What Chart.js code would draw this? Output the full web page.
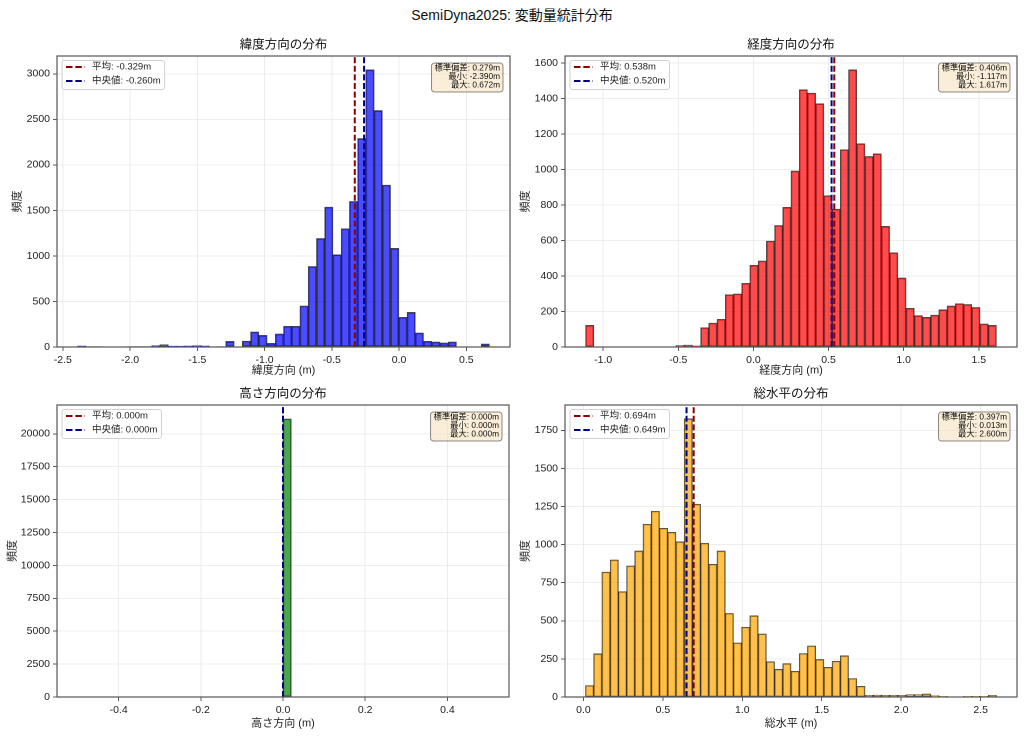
<!DOCTYPE html>
<html lang="ja">
<head>
    <meta charset="UTF-8">
    <title>SemiDyna2025: 変動量統計分布</title>
    <script src="https://cdn.jsdelivr.net/npm/chart.js"></script>
    <style>
        body {
            margin: 0;
            background: #fff;
            width: 1024px;
            height: 737px;
            overflow: hidden;
            position: relative;
            font-family: "Liberation Sans", "Noto Sans CJK JP", sans-serif;
        }

        .suptitle {
            position: absolute;
            top: 4px;
            left: 0;
            width: 1024px;
            text-align: center;
            font-size: 14px;
            color: #111;
        }

        canvas {
            position: absolute;
        }
    </style>
</head>
<body>

    <div class="suptitle">SemiDyna2025: 変動量統計分布</div>

    <canvas id="latChart" width="520" height="385" style="left:0;top:0"></canvas>
    <canvas id="lonChart" width="514" height="385" style="left:510px;top:0"></canvas>
    <canvas id="hgtChart" width="520" height="352" style="left:0;top:385px"></canvas>
    <canvas id="horChart" width="514" height="352" style="left:510px;top:385px"></canvas>

    <script>
        // Histogram counts per bin (50 bins)
        const latCounts = [12, 3, 3, 0, 0, 0, 2, 2, 5, 15, 25, 10, 10, 12, 15, 12, 0, 5, 62, 0,
            65, 165, 128, 40, 143, 227, 227, 450, 885, 1192, 1536, 1013, 1298, 1598, 2290, 3043, 2597, 1778, 1083, 326,
            380, 154, 62, 55, 44, 55, 0, 0, 0, 33];
        const lonCounts = [122, 0, 0, 0, 0, 0, 0, 0, 0, 0, 0, 9, 11, 6, 109, 135, 156, 295, 299, 359,
            460, 485, 597, 685, 787, 992, 1450, 1431, 1371, 853, 777, 1112, 1562, 1146, 1074, 1089, 680, 531, 389, 218,
            177, 167, 180, 210, 231, 244, 240, 223, 130, 122];
        const hgtCounts = [0, 0, 0, 0, 0, 0, 0, 0, 0, 0, 0, 0, 0, 0, 0, 0, 0, 0, 0, 0,
            0, 0, 0, 0, 0, 21130, 0, 0, 0, 0, 0, 0, 0, 0, 0, 0, 0, 0, 0, 0,
            0, 0, 0, 0, 0, 0, 0, 0, 0, 0];
        const horCounts = [75, 283, 820, 899, 691, 860, 958, 1134, 1219, 1107, 1081, 1018, 1825, 1265, 1009, 871, 958, 548, 355, 458,
            533, 414, 232, 182, 219, 169, 285, 335, 246, 195, 235, 270, 121, 70, 11, 13, 11, 11, 11, 15,
            15, 20, 9, 4, 0, 0, 4, 4, 4, 11];

        // Histogram ranges [min, max]
        const latRange = [-2.390, 0.672];
        const lonRange = [-1.117, 1.617];
        const hgtRange = [-0.5, 0.5];
        const horRange = [0.013, 2.600];

        // Statistics: mean, median, std, min, max
        const latStats = [-0.329, -0.260, 0.279, -2.390, 0.672];
        const lonStats = [0.538, 0.520, 0.406, -1.117, 1.617];
        const hgtStats = [0.000, 0.000, 0.000, 0.000, 0.000];
        const horStats = [0.694, 0.649, 0.397, 0.013, 2.600];

        // Tick values
        const latXTicks = [-2.5, -2.0, -1.5, -1.0, -0.5, 0.0, 0.5];
        const lonXTicks = [-1.0, -0.5, 0.0, 0.5, 1.0, 1.5];
        const hgtXTicks = [-0.4, -0.2, 0.0, 0.2, 0.4];
        const horXTicks = [0.0, 0.5, 1.0, 1.5, 2.0, 2.5];
        const latYTicks = [0, 500, 1000, 1500, 2000, 2500, 3000];
        const lonYTicks = [0, 200, 400, 600, 800, 1000, 1200, 1400, 1600];
        const hgtYTicks = [0, 2500, 5000, 7500, 10000, 12500, 15000, 17500, 20000];
        const horYTicks = [0, 250, 500, 750, 1000, 1250, 1500, 1750];

        const FONT = '"Liberation Sans", "Noto Sans CJK JP", sans-serif';
        Chart.defaults.font.family = FONT;
        Chart.defaults.color = '#222';

        function binCenters(range, n) {
            const w = (range[1] - range[0]) / n;
            const out = [];
            for (let i = 0; i < n; i++) out.push(range[0] + (i + 0.5) * w);
            return out;
        }

        // Draws spines, panel title, inner legend and stats box
        const decor = {
            id: 'decor',
            afterDatasetsDraw(chart, args, opts) {
                const a = chart.chartArea;
                const ctx = chart.ctx;
                ctx.save();
                ctx.strokeStyle = '#555';
                ctx.lineWidth = 1.2;
                ctx.strokeRect(a.left, a.top, a.right - a.left, a.bottom - a.top);
                ctx.restore();
            },
            afterDraw(chart, args, opts) {
                const a = chart.chartArea;
                const ctx = chart.ctx;
                ctx.save();

                // panel title
                ctx.fillStyle = '#111';
                ctx.font = '12.5px ' + FONT;
                ctx.textAlign = 'center';
                ctx.textBaseline = 'middle';
                ctx.fillText(opts.title, (a.left + a.right) / 2, a.top - 11);

                // legend (upper left)
                const lines = chart.data.datasets.filter(d => d.type === 'line');
                ctx.font = '9.5px ' + FONT;
                const tw = Math.max(...lines.map(d => ctx.measureText(d.label).width));
                const lx = a.left + 5, ly = a.top + 4.5;
                const lw = tw + 34, lh = 29;
                roundRect(ctx, lx, ly, lw, lh, 2.5);
                ctx.fillStyle = 'rgba(255,255,255,0.8)';
                ctx.fill();
                ctx.strokeStyle = 'rgba(204,204,204,0.9)';
                ctx.lineWidth = 1;
                ctx.stroke();
                lines.forEach((d, i) => {
                    const y = ly + 6.5 + i * 14;
                    ctx.beginPath();
                    ctx.setLineDash([6.5, 2.8]);
                    ctx.strokeStyle = d.borderColor;
                    ctx.lineWidth = 2;
                    ctx.moveTo(lx + 4, y);
                    ctx.lineTo(lx + 23, y);
                    ctx.stroke();
                    ctx.setLineDash([]);
                    ctx.fillStyle = '#222';
                    ctx.textAlign = 'left';
                    ctx.fillText(d.label, lx + 30, y);
                });

                // stats box (upper right)
                ctx.font = '8.3px ' + FONT;
                const sw = Math.max(...opts.stats.map(s => ctx.measureText(s).width));
                const bw = sw + 6, bh = 29;
                const bx = a.right - 7 - bw, by = a.top + 7;
                roundRect(ctx, bx, by, bw, bh, 3);
                ctx.fillStyle = 'rgba(245,222,179,0.5)';
                ctx.fill();
                ctx.strokeStyle = 'rgba(0,0,0,0.45)';
                ctx.lineWidth = 1;
                ctx.stroke();
                ctx.fillStyle = '#111';
                ctx.textAlign = 'right';
                opts.stats.forEach((s, i) => {
                    ctx.fillText(s, bx + bw - 3, by + 5 + i * 8.7);
                });
                ctx.restore();
            }
        };

        function roundRect(ctx, x, y, w, h, r) {
            ctx.beginPath();
            ctx.moveTo(x + r, y);
            ctx.lineTo(x + w - r, y);
            ctx.arcTo(x + w, y, x + w, y + r, r);
            ctx.lineTo(x + w, y + h - r);
            ctx.arcTo(x + w, y + h, x + w - r, y + h, r);
            ctx.lineTo(x + r, y + h);
            ctx.arcTo(x, y + h, x, y + h - r, r);
            ctx.lineTo(x, y + r);
            ctx.arcTo(x, y, x + r, y, r);
            ctx.closePath();
        }

        function makeHist(id, cfg) {
            const centers = binCenters(cfg.range, cfg.counts.length);
            const yMax = cfg.yMax;
            const mean = cfg.stats[0], median = cfg.stats[1];
            const fmt = v => v.toFixed(3) + 'm';
            return new Chart(document.getElementById(id), {
                type: 'bar',
                data: {
                    datasets: [
                        {
                            type: 'line',
                            label: '平均: ' + fmt(mean),
                            data: [{ x: mean, y: 0 }, { x: mean, y: yMax }],
                            borderColor: '#8b0000',
                            borderWidth: 2,
                            borderDash: [6, 2.6],
                            pointRadius: 0,
                            order: 1
                        },
                        {
                            type: 'line',
                            label: '中央値: ' + fmt(median),
                            data: [{ x: median, y: 0 }, { x: median, y: yMax }],
                            borderColor: '#00008b',
                            borderWidth: 2,
                            borderDash: [6, 2.6],
                            pointRadius: 0,
                            order: 0
                        },
                        {
                            type: 'bar',
                            label: 'count',
                            data: centers.map((c, i) => ({ x: c, y: cfg.counts[i] })),
                            backgroundColor: cfg.color,
                            borderColor: 'rgba(0,0,0,0.7)',
                            borderWidth: 0.9,
                            borderSkipped: false,
                            barPercentage: 1,
                            categoryPercentage: 1,
                            order: 2
                        }
                    ]
                },
                options: {
                    responsive: false,
                    animation: false,
                    devicePixelRatio: 2,
                    layout: { padding: { top: cfg.padTop, right: cfg.padRight, left: 0, bottom: 0 } },
                    plugins: {
                        legend: { display: false },
                        tooltip: { enabled: false },
                        title: { display: false },
                        decor: {
                            title: cfg.title,
                            stats: [
                                '標準偏差: ' + fmt(cfg.stats[2]),
                                '最小: ' + fmt(cfg.stats[3]),
                                '最大: ' + fmt(cfg.stats[4])
                            ]
                        }
                    },
                    scales: {
                        x: {
                            type: 'linear',
                            min: cfg.xMin,
                            max: cfg.xMax,
                            offset: false,
                            afterFit: axis => { axis.height = cfg.xH; },
                            afterBuildTicks: axis => { axis.ticks = cfg.xTicks.map(v => ({ value: v })); },
                            ticks: {
                                autoSkip: false,
                                maxRotation: 0,
                                padding: 3,
                                font: { size: 10.5 },
                                callback: v => v.toFixed(1)
                            },
                            grid: { color: '#e8e8e8', lineWidth: 0.8, offset: false, tickLength: 4, tickColor: '#333' },
                            border: { display: false },
                            title: { display: true, text: cfg.xLabel, font: { size: 11 }, padding: { top: 0, bottom: cfg.xTitlePad } }
                        },
                        y: {
                            min: 0,
                            max: yMax,
                            afterFit: axis => { axis.width = cfg.yW; },
                            afterBuildTicks: axis => { axis.ticks = cfg.yTicks.map(v => ({ value: v })); },
                            ticks: { autoSkip: false, padding: 3, font: { size: 10.5 }, callback: v => String(v) },
                            grid: { color: '#e8e8e8', lineWidth: 0.8, tickLength: 4, tickColor: '#333' },
                            border: { display: false },
                            title: { display: true, text: '頻度', font: { size: 11 }, padding: { top: cfg.yTitlePad, bottom: 0 } }
                        }
                    }
                },
                plugins: [decor]
            });
        }

        makeHist('latChart', {
            title: '緯度方向の分布', xLabel: '緯度方向 (m)',
            counts: latCounts, range: latRange, stats: latStats,
            color: 'rgba(0,0,255,0.7)',
            xMin: -2.543, xMax: 0.825, yMax: 3195,
            xTicks: latXTicks, yTicks: latYTicks,
            padTop: 56, padRight: 10, yW: 57, xH: 38, xTitlePad: 8, yTitlePad: 11
        });

        makeHist('lonChart', {
            title: '経度方向の分布', xLabel: '経度方向 (m)',
            counts: lonCounts, range: lonRange, stats: lonStats,
            color: 'rgba(255,0,0,0.7)',
            xMin: -1.254, xMax: 1.754, yMax: 1640,
            xTicks: lonXTicks, yTicks: lonYTicks,
            padTop: 56, padRight: 7, yW: 55, xH: 38, xTitlePad: 8, yTitlePad: 9
        });

        makeHist('hgtChart', {
            title: '高さ方向の分布', xLabel: '高さ方向 (m)',
            counts: hgtCounts, range: hgtRange, stats: hgtStats,
            color: 'rgba(0,128,0,0.7)',
            xMin: -0.55, xMax: 0.55, yMax: 22187,
            xTicks: hgtXTicks, yTicks: hgtYTicks,
            padTop: 20, padRight: 11, yW: 57, xH: 40, xTitlePad: 7, yTitlePad: 6
        });

        makeHist('horChart', {
            title: '総水平の分布', xLabel: '総水平 (m)',
            counts: horCounts, range: horRange, stats: horStats,
            color: 'rgba(255,165,0,0.7)',
            xMin: -0.116, xMax: 2.729, yMax: 1916,
            xTicks: horXTicks, yTicks: horYTicks,
            padTop: 20, padRight: 7, yW: 55, xH: 40, xTitlePad: 7, yTitlePad: 9
        });
    </script>
</body>
</html>
